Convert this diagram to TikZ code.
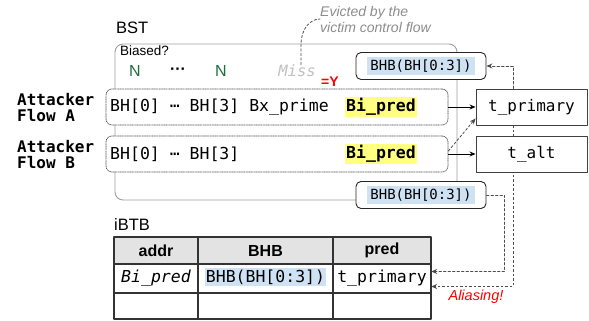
\documentclass[tikz,border=0pt]{standalone}
\usepackage{fontspec}
\setmainfont{Liberation Sans}
\setmonofont{DejaVu Sans Mono}
\usetikzlibrary{arrows.meta,calc,backgrounds}

\definecolor{surjaune}{HTML}{FFFF80}
\definecolor{surbleu}{HTML}{CFE2F3}
\definecolor{vertN}{HTML}{1B6E3A}
\definecolor{rougeY}{HTML}{FF0000}

\newcommand{\mono}[1]{\ttfamily\fontsize{#1}{#1}\selectfont}
\newcommand{\sans}[1]{\fontsize{#1}{#1}\selectfont}

\begin{document}
\begin{tikzpicture}[line cap=round,line join=round,>={Stealth[length=6pt,width=5pt]},x=1pt,y=-1pt,
  flux/.style={draw=black!70,densely dotted,line width=.7pt,rounded corners=6pt,fill=white,
    minimum width=342pt,minimum height=36pt,inner sep=0pt},
  cible/.style={draw=black!75,line width=.9pt,fill=white,minimum width=111pt,minimum height=36pt,
    inner sep=0pt,font=\mono{16}},
  bhb/.style={draw=black!85,line width=.9pt,rounded corners=5pt,fill=white,minimum width=130pt,
    minimum height=27pt,inner sep=0pt},
  tirets/.style={draw=black!70,dash pattern=on 2.5pt off 2pt,line width=.8pt},
  cellule/.style={inner sep=0pt},
  surligne/.style={inner xsep=1pt,inner ysep=1.5pt}]
\useasboundingbox (0,0) rectangle (589,321);

% BST
\node[anchor=west,cellule,font=\sans{16.5}] (bst) at (116,28) {BST};
\draw[black!38,line width=.9pt,rounded corners=8pt] (115,44) rectangle (457,200);
\node[anchor=west,cellule,font=\sans{13.5}] (biais) at (120,51) {Biased?};
\node[cellule,text=vertN,font=\sans{16}] (n1) at (135,71) {N};
\node[cellule,font=\bfseries\sans{16}] (pts) at (178,71) {···};
\node[cellule,text=vertN,font=\sans{16}] (n2) at (221,71) {N};
\node[cellule,text=black!25,font=\mono{15.5}\itshape] (miss) at (297,71) {Miss};
\node[cellule,text=rougeY,font=\bfseries\sans{14}] (egY) at (330,82) {=Y};

% eviction
\node[anchor=west,align=left,cellule,text=black!45,font=\itshape\fontsize{14}{16}\selectfont] (evict) at (320,19)
  {Evicted by the\\victim control flow};
\draw[tirets] ([xshift=4pt]miss.north) -- ++(0,-20) .. controls +(0,-16) and +(-10,0) .. (evict.west);

% flux attaquant
\node[flux] (fluxA) at (277,107) {};
\node[flux] (fluxB) at (277,154) {};
\node[anchor=west,cellule,font=\mono{16.5}] at (110,107) {BH[0] ⋯ BH[3] Bx\_prime};
\node[anchor=west,cellule,font=\mono{16.5}] at (110,154) {BH[0] ⋯ BH[3]};
\node[surligne,fill=surjaune,font=\mono{16.5}\bfseries] (predA) at (381,107) {Bi\_pred};
\node[surligne,fill=surjaune,font=\mono{16.5}\bfseries] (predB) at (381,154) {Bi\_pred};
\node[anchor=west,align=left,cellule,font=\mono{16}\bfseries] (attA) at (17,108) {Attacker\\Flow A};
\node[anchor=west,align=left,cellule,font=\mono{16}\bfseries] (attB) at (17,155) {Attacker\\Flow B};

% cibles et BHB
\node[cible] (tprim) at (531.5,107) {t\_primary};
\node[cible] (talt) at (531.5,154) {t\_alt};
\node[bhb] (bhbhaut) at (421,66) {\colorbox{surbleu}{\mono{14}BHB(BH[0:3])}};
\node[bhb] (bhbbas) at (421,195) {\colorbox{surbleu}{\mono{14}BHB(BH[0:3])}};

% iBTB
\node[anchor=west,cellule,font=\sans{16.5}] (ibtb) at (114,225) {iBTB};
\fill[black!11] (114,237) rectangle (431,264);
\draw[black!80,line width=1.2pt] (114,237) rectangle (431,319);
\foreach \y in {264,293} \draw[black!80,line width=1.2pt] (114,\y) -- (431,\y);
\foreach \x in {198,333} \draw[black!80,line width=1.2pt] (\x,237) -- (\x,319);
\node[cellule,font=\bfseries\sans{16}] (hadr) at (156,250.5) {addr};
\node[cellule,font=\bfseries\sans{16}] (hbhb) at (265.5,250.5) {BHB};
\node[cellule,font=\bfseries\sans{16}] (hpred) at (382,250.5) {pred};
\node[cellule,font=\mono{16.5}\itshape] (cadr) at (156,278.5) {Bi\_pred};
\node[surligne,fill=surbleu,font=\mono{16.5}] (cbhb) at (265.5,277) {BHB(BH[0:3])};
\node[cellule,minimum width=98pt,minimum height=29pt,font=\mono{16.5}] (cpred) at (382,278.5) {t\_primary};
\node[cellule,text=rougeY,font=\itshape\sans{14.5}] (alias) at (476,297) {Aliasing!};

% fleches
\draw[->,line width=.9pt] (fluxA) -- (tprim);
\draw[->,line width=.9pt] (fluxB) -- (talt);
\draw[tirets,->] ([yshift=3pt]fluxB.east) -- ([yshift=7pt]tprim.south west);
\draw[tirets,->] ([xshift=-18.5pt]tprim.north) |- (bhbhaut);
\draw[tirets,->] (bhbbas.east) -- ++(18,0) |- ([yshift=7pt]cpred.east);
\begin{scope}[on background layer]
\draw[tirets,->] ([xshift=-18.5pt]tprim.south) |- ([yshift=-8pt]cpred.east);
\end{scope}
\end{tikzpicture}
\end{document}
